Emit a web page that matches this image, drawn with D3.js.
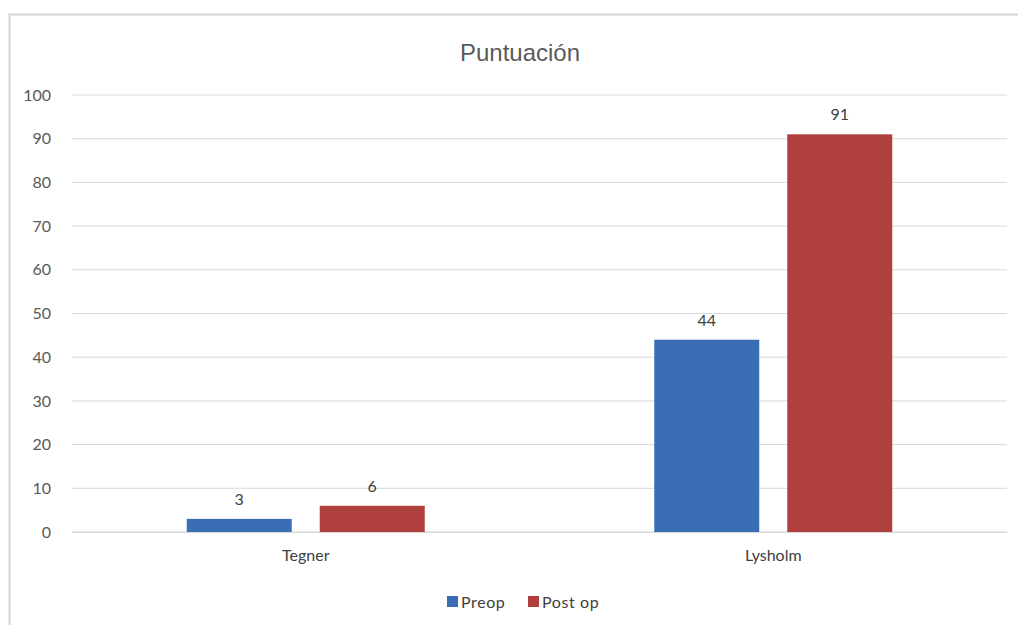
<!DOCTYPE html>
<html><head><meta charset="utf-8">
<script src="https://cdn.jsdelivr.net/npm/d3@7"></script>
<style>body{margin:0;background:#fff}svg{display:block}</style>
</head><body>
<script>
const categories = ["Tegner", "Lysholm"];
const seriesNames = ["Preop", "Post op"];
const preop = [3, 44];
const postop = [6, 91];
const yTicks = [0,10,20,30,40,50,60,70,80,90,100];
const colors = ["#3b6db4", "#b0403e"];

(function(){
const W = 1018, H = 625;
const svg = d3.select("body").append("svg").attr("width", W).attr("height", H);
svg.append("rect").attr("x", 9.5).attr("y", 14.5).attr("width", W + 10).attr("height", H + 10)
  .attr("fill", "#fff").attr("stroke", "#d4d4d4").attr("stroke-width", 2);

const mLeft = 72, mRight = 1007, mTop = 95, mBottom = 532;
const x = d3.scaleBand().domain(categories).range([mLeft, mRight]);
const y = d3.scaleLinear().domain([0, 100]).range([mBottom, mTop]);
const x1 = d3.scaleBand().domain(seriesNames).range([0, 238]).paddingInner(28/133);

const g = svg.append("g");
g.selectAll("line.grid").data(yTicks).enter().append("line")
  .attr("x1", mLeft).attr("x2", mRight).attr("y1", d => y(d)).attr("y2", d => y(d))
  .attr("stroke", "#d9d9d9").attr("stroke-width", 1);

const yAxis = d3.axisLeft(y).tickValues(yTicks).tickSize(0).tickPadding(21);
const ya = svg.append("g").attr("transform", `translate(${mLeft},0)`).call(yAxis);
ya.select(".domain").remove();
ya.selectAll("text").attr("font-family", "Lato, 'Open Sans', sans-serif").attr("font-size", 16).attr("fill", "#595959");

const data = categories.map((c, i) => ({cat: c, vals: [preop[i], postop[i]]}));
const groups = svg.selectAll("g.cat").data(data).enter().append("g")
  .attr("transform", d => `translate(${x(d.cat) + (x.bandwidth() - 238) / 2},0)`);
groups.selectAll("rect").data(d => d.vals.map((v, j) => ({v, s: seriesNames[j], j}))).enter().append("rect")
  .attr("x", d => x1(d.s)).attr("width", x1.bandwidth())
  .attr("y", d => y(d.v)).attr("height", d => y(0) - y(d.v))
  .attr("fill", d => colors[d.j]);
groups.selectAll("text").data(d => d.vals.map((v, j) => ({v, s: seriesNames[j], j}))).enter().append("text")
  .attr("x", d => x1(d.s) + x1.bandwidth() / 2).attr("y", d => y(d.v) - 14)
  .attr("text-anchor", "middle").attr("font-family", "Lato, 'Open Sans', sans-serif")
  .attr("font-size", 16).attr("fill", "#404040").text(d => d.v);

const xAxis = d3.axisBottom(x).tickSize(0).tickPadding(18);
const xa = svg.append("g").attr("transform", `translate(0,${mBottom})`).call(xAxis);
xa.select(".domain").attr("stroke", "#d9d9d9");
xa.selectAll("text").attr("font-family", "Lato, 'Open Sans', sans-serif").attr("font-size", 16).attr("fill", "#404040");

svg.append("text").attr("x", 520).attr("y", 61).attr("text-anchor", "middle")
  .attr("font-family", "'Liberation Sans', Arial, sans-serif").attr("font-size", 24).attr("fill", "#595959")
  .text("Puntuación");

const legendX = [447, 528];
const lg = svg.selectAll("g.leg").data(seriesNames).enter().append("g")
  .attr("transform", (d, i) => `translate(${legendX[i]},596)`);
lg.append("rect").attr("width", 11).attr("height", 11).attr("fill", (d, i) => colors[i]);
lg.append("text").attr("x", 14).attr("y", 11.5).attr("font-family", "Lato, 'Open Sans', sans-serif")
  .attr("font-size", 16).attr("letter-spacing", 0.6).attr("fill", "#404040").text(d => d);
})();
</script>
</body></html>
